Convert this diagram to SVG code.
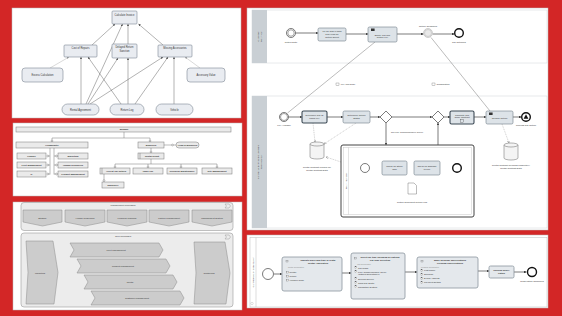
<svg xmlns="http://www.w3.org/2000/svg" width="562" height="316" viewBox="0 0 562 316">
<defs>
<marker id="a1" viewBox="0 0 6 6" refX="6" refY="3" markerUnits="userSpaceOnUse" markerWidth="2.2" markerHeight="2.2" orient="auto"><path d="M0,0L6,3L0,6Z" fill="#444"/></marker>
<marker id="a1l" viewBox="0 0 6 6" refX="6" refY="3" markerUnits="userSpaceOnUse" markerWidth="2.2" markerHeight="2.2" orient="auto"><path d="M0,0L6,3L0,6Z" fill="#999"/></marker>
<marker id="a2" viewBox="0 0 6 6" refX="6" refY="3" markerUnits="userSpaceOnUse" markerWidth="2.4" markerHeight="2.4" orient="auto"><path d="M0,0L6,3L0,6Z" fill="#222"/></marker>
<marker id="a3" viewBox="0 0 6 6" refX="6" refY="3" markerUnits="userSpaceOnUse" markerWidth="2.4" markerHeight="2.4" orient="auto"><path d="M0,0L6,3L0,6" fill="none" stroke="#777"/></marker>
<style>
text{font-family:"Liberation Sans",Arial,sans-serif;fill:#333;text-anchor:middle}
.f3{font-size:3px}.f2{font-size:2.3px}.f25{font-size:2.6px}.b{font-weight:bold}
.panel{fill:#fff;stroke:#bbb;stroke-width:.5}
.p1{fill:#e9ecf1;stroke:#7d8894;stroke-width:.6}
.c1{stroke:#555;stroke-width:.45;fill:none;marker-end:url(#a1)}
.c1l{stroke:#aaa;stroke-width:.45;fill:none;marker-end:url(#a1l)}
.org{fill:#eaeaea;stroke:#777;stroke-width:.5}
.ol{stroke:#777;stroke-width:.5;fill:none}
.dot{fill:#fff;stroke:#666;stroke-width:.4}
.chev{fill:#cccccc;stroke:#8a8a8a;stroke-width:.5}
.cont{fill:#ececec;stroke:#9a9a9a;stroke-width:.6}
.task{fill:#dde3e8;stroke:#6f7c87;stroke-width:.6}
.taskb{fill:#dde3e8;stroke:#3d4a55;stroke-width:1.1}
.flow{stroke:#222;stroke-width:.6;fill:none;marker-end:url(#a2)}
.msg{stroke:#555;stroke-width:.4;fill:none}
.assoc{stroke:#888;stroke-width:.4;stroke-dasharray:1 .8;fill:none}
.ev{fill:#fff;stroke:#222;stroke-width:.6}
.evend{fill:#fff;stroke:#111;stroke-width:1.4}
.hdr{fill:#c9cfd4;stroke:none}
.sp{fill:#e4e8ec;stroke:#8a959e;stroke-width:.8}
.chk{fill:#fff;stroke:#555;stroke-width:.3}
</style>
</defs>
<rect x="0" y="0" width="562" height="316" fill="#d32626"/>

<!-- Panel 1 -->
<g id="panel1">
<rect class="panel" x="12" y="8" width="229" height="110"/>
<g id="connectors1">
<line class="c1" x1="92" y1="45" x2="115" y2="24"/>
<line class="c1" x1="128" y1="44" x2="128" y2="24"/>
<line class="c1" x1="163" y1="45" x2="138.5" y2="24"/>
<line class="c1" x1="86" y1="104" x2="122.5" y2="24"/>
<line class="c1" x1="81" y1="104" x2="81" y2="57"/>
<line class="c1" x1="88" y1="104" x2="118" y2="58"/>
<line class="c1" x1="90" y1="104" x2="163" y2="57"/>
<line class="c1" x1="121" y1="104" x2="88" y2="57"/>
<line class="c1" x1="128" y1="104" x2="128" y2="58"/>
<line class="c1" x1="135" y1="104" x2="168" y2="57"/>
<line class="c1" x1="174" y1="104" x2="174" y2="57"/>
<line class="c1l" x1="50" y1="68" x2="69" y2="57"/>
<line class="c1l" x1="200" y1="68" x2="185" y2="57"/>
</g>
<g id="calcInvoice"><rect class="p1" x="112" y="11" width="25" height="13" rx="1"/><text class="f25" x="124.5" y="15.5">Calculate Invoice</text></g>
<g id="costRepairs"><rect class="p1" x="64" y="45" width="33" height="12" rx="1"/><text class="f25" x="80.5" y="49.3">Cost of Repairs</text></g>
<g id="delayed"><rect class="p1" x="112" y="44" width="25" height="14" rx="1"/><text class="f25" x="124.5" y="48.3">Delayed Return</text><text class="f25" x="124.5" y="51.5">Sanction</text></g>
<g id="missing"><rect class="p1" x="158" y="45" width="34" height="12" rx="1"/><text class="f25" x="175" y="49.3">Missing Accessories</text></g>
<g id="excess"><rect class="p1" x="22" y="68" width="41" height="14" rx="3"/><text class="f25" x="42.5" y="76">Excess Calculation</text></g>
<g id="accessory"><rect class="p1" x="187" y="68" width="38" height="14" rx="3"/><text class="f25" x="206" y="76">Accessory Value</text></g>
<g id="rentalAgr"><rect class="p1" x="62" y="104" width="37" height="11" rx="5.5"/><text class="f25" x="80.5" y="110.5">Rental Agreement</text></g>
<g id="returnLog"><rect class="p1" x="110" y="104" width="34" height="11" rx="5.5"/><text class="f25" x="127" y="110.5">Return Log</text></g>
<g id="vehicle"><rect class="p1" x="156" y="104" width="37" height="11" rx="5.5"/><text class="f25" x="174.5" y="110.5">Vehicle</text></g>
</g>

<!-- Panel 2 -->
<g id="panel2">
<rect class="panel" x="13" y="123" width="229" height="73"/>
<g id="connectors2">
<path class="ol" d="M124,132V138M52,138H150M52,138V142M150,138V142"/>
<path class="ol" d="M50,148V174.5M54,148V174.5M50,156H47M50,165H47M50,174H47M54,156H58M54,165H58M54,174H58"/>
<path class="ol" d="M164,145H176M151,148V153M151,159V164M115,164H217M115,164V168M148,164V168M181,164V168M217,164V168M104,174V182"/>
<circle class="dot" cx="52" cy="141" r=".9"/><circle class="dot" cx="150" cy="141" r=".9"/>
<circle class="dot" cx="47.8" cy="156" r=".9"/><circle class="dot" cx="47.8" cy="165" r=".9"/><circle class="dot" cx="47.8" cy="174" r=".9"/>
<circle class="dot" cx="56.5" cy="156" r=".9"/><circle class="dot" cx="56.5" cy="165" r=".9"/><circle class="dot" cx="56.5" cy="174" r=".9"/>
<circle class="dot" cx="172.5" cy="145" r=".9"/><circle class="dot" cx="151" cy="152" r=".9"/>
<circle class="dot" cx="115" cy="167" r=".9"/><circle class="dot" cx="148" cy="167" r=".9"/><circle class="dot" cx="181" cy="167" r=".9"/><circle class="dot" cx="217" cy="167" r=".9"/>
<circle class="dot" cx="104" cy="180.5" r=".9"/>
</g>
<g id="milbank"><rect class="org" x="16" y="127" width="215" height="5"/><text class="f2 b" x="124" y="130.4">Milbank</text></g>
<g id="hq"><rect class="org" x="16" y="142" width="72" height="6"/><text class="f2 b" x="52" y="145.8">Headquarter</text></g>
<g id="finance"><rect class="org" x="17" y="153" width="29" height="6"/><text class="f2 b" x="31.5" y="156.8">Finance</text></g>
<g id="fleet"><rect class="org" x="17" y="162" width="29" height="6"/><text class="f2 b" x="31.5" y="165.8">Fleet Management</text></g>
<g id="it"><rect class="org" x="17" y="171" width="29" height="6"/><text class="f2 b" x="31.5" y="174.8">IT</text></g>
<g id="marketing"><rect class="org" x="58" y="153" width="30" height="6"/><text class="f2 b" x="73" y="156.8">Marketing</text></g>
<g id="hr"><rect class="org" x="58" y="162" width="30" height="6"/><text class="f2 b" x="73" y="165.8">Human Resources</text></g>
<g id="pm"><rect class="org" x="58" y="171" width="30" height="6"/><text class="f2 b" x="73" y="174.8">Product Management</text></g>
<g id="branches"><rect class="org" x="138" y="142" width="26" height="6"/><text class="f2 b" x="151" y="145.8">Branches</text></g>
<g id="headBranches"><rect class="org" x="176" y="142" width="23" height="6" rx="3"/><text class="f2 b" x="187.5" y="145.8">Head of Branches</text></g>
<g id="depot"><rect class="org" x="138" y="153" width="26" height="6"/><line class="ol" x1="140" y1="153" x2="140" y2="159"/><text class="f2 b" x="152" y="156.8">Rental Depot</text></g>
<g id="accept"><rect class="org" x="100" y="168" width="30" height="6"/><line class="ol" x1="102" y1="168" x2="102" y2="174"/><text class="f2 b" x="116" y="171.8">Accept Car Return</text></g>
<g id="issue"><rect class="org" x="133" y="168" width="30" height="6"/><text class="f2 b" x="148" y="171.8">Issue Car</text></g>
<g id="tech"><rect class="org" x="167" y="168" width="30" height="6"/><text class="f2 b" x="182" y="171.8">Technical Maintenance</text></g>
<g id="site"><rect class="org" x="202" y="168" width="30" height="6"/><text class="f2 b" x="217" y="171.8">Site Management</text></g>
<g id="employee"><rect class="org" x="102" y="182" width="22" height="6"/><text class="f2 b" x="113" y="185.8">Employee</text></g>
</g>

<!-- Panel 3 -->
<g id="panel3">
<rect class="panel" x="13" y="202" width="229" height="108"/>
<rect class="cont" x="21" y="202.5" width="212" height="28" rx="3"/>
<text class="f2" x="123" y="206">Management Processes</text>
<path d="M225,204H229L230.5,206L229,208H225L226.5,206Z" fill="none" stroke="#888" stroke-width=".4"/>
<g id="strategy"><path class="chev" d="M23,210H62V222L42.5,226L23,222Z"/><text class="f2" x="42.5" y="219">Strategy</text></g>
<g id="mhr"><path class="chev" d="M65,210H105V222L85,226L65,222Z"/><text class="f2" x="85" y="219">Human Resources</text></g>
<g id="finplan"><path class="chev" d="M107,210H147V222L127,226L107,222Z"/><text class="f2" x="127" y="219">Financial Planning</text></g>
<g id="partner"><path class="chev" d="M149,210H189V222L169,226L149,222Z"/><text class="f2" x="169" y="219">Partner Management</text></g>
<g id="mgmtsys"><path class="chev" d="M192,210H232V222L212,226L192,222Z"/><text class="f2" x="212" y="219">Management System</text></g>
<rect class="cont" x="21" y="233" width="212" height="74" rx="3"/>
<text class="f2" x="123" y="236.5">Core processes</text>
<path d="M225,235H229L230.5,237L229,239H225L226.5,237Z" fill="none" stroke="#888" stroke-width=".4"/>
<g id="cmarketing"><path class="chev" d="M26,241H53L58,272.5L54,304H26L28,272.5Z"/><text class="f2" x="40" y="273.5">Marketing</text></g>
<g id="controlling"><path class="chev" d="M194,242H225L230,273L226,304H194L196,273Z"/><text class="f2" x="209" y="274">Controlling</text></g>
<g id="cfleet"><path class="chev" d="M70,243H159L163,250L159,257H70L74,250Z"/><text class="f2" x="116" y="251">Fleet Management</text></g>
<g id="cproduct"><path class="chev" d="M77,259H166L170,266L166,273H77L81,266Z"/><text class="f2" x="123" y="267">Product Management</text></g>
<g id="crental"><path class="chev" d="M84,275H173L177,282L173,289H84L88,282Z"/><text class="f2" x="130" y="283">Rental</text></g>
<g id="ccustomer"><path class="chev" d="M91,291H180L184,298L180,305H91L95,298Z"/><text class="f2" x="137" y="299">Customer Management</text></g>
</g>

<!-- Panel 4 BPMN -->
<g id="panel4">
<rect class="panel" x="247" y="8" width="301" height="222"/>
<rect x="252" y="10" width="295" height="53" fill="none" stroke="#d0d4d8" stroke-width=".5"/>
<rect class="hdr" x="252" y="10" width="15" height="53"/>
<text class="f2" transform="translate(259,36.5) rotate(-90)">Customer</text>
<text class="f2" transform="translate(262,36.5) rotate(-90)">Return Car</text>
<rect x="252" y="96" width="295" height="132" fill="none" stroke="#d0d4d8" stroke-width=".5"/>
<rect class="hdr" x="252" y="96" width="15" height="132"/>
<text class="f2" transform="translate(259,162) rotate(-90)">Car Rental for Private Customers</text>
<text class="f2" transform="translate(262,162) rotate(-90)">Take back Car</text>

<g id="connectors4">
<line class="flow" x1="295.5" y1="33" x2="318" y2="33"/>
<line class="flow" x1="346" y1="34" x2="368" y2="34"/>
<line class="flow" x1="397" y1="34" x2="423.5" y2="34"/>
<line class="flow" x1="432.5" y1="34" x2="454.5" y2="34"/>
<line class="msg" x1="375" y1="42" x2="287.5" y2="113"/>
<line class="msg" x1="490" y1="111" x2="431" y2="37.5"/>
<line class="flow" x1="288.5" y1="117" x2="302" y2="117"/>
<line class="flow" x1="327" y1="117" x2="343" y2="117"/>
<line class="flow" x1="370" y1="117" x2="380" y2="117"/>
<line class="flow" x1="392" y1="117" x2="432" y2="117"/>
<line class="flow" x1="386" y1="123" x2="386" y2="145"/>
<line class="flow" x1="438" y1="145" x2="438" y2="123"/>
<line class="flow" x1="444" y1="117" x2="450" y2="117"/>
<line class="flow" x1="474" y1="117" x2="486" y2="117"/>
<line class="flow" x1="513" y1="117" x2="521.5" y2="117"/>
<line class="assoc" x1="313" y1="123" x2="315" y2="142" marker-end="url(#a3)"/>
<line class="assoc" x1="356" y1="123" x2="324" y2="144" marker-end="url(#a3)"/>
<line class="assoc" x1="341" y1="162" x2="326" y2="157" marker-end="url(#a3)"/>
<line class="assoc" x1="502" y1="124" x2="509" y2="143" marker-end="url(#a3)"/>
<line class="flow" x1="369.5" y1="168" x2="382" y2="168"/>
<line class="flow" x1="407" y1="168" x2="414" y2="168"/>
<line class="flow" x1="440" y1="168" x2="452.5" y2="168"/>
<line class="assoc" x1="400" y1="175" x2="409" y2="183" marker-end="url(#a3)"/>
<line class="assoc" x1="421" y1="175" x2="415" y2="183" marker-end="url(#a3)"/>
</g>

<g id="startReturnDate"><circle class="ev" cx="291" cy="33" r="4.5"/><circle cx="291" cy="33" r="3.2" fill="none" stroke="#222" stroke-width=".4"/><text class="f2" x="291" y="42.5">Return Date</text></g>
<g id="fillGas"><rect class="task" x="318" y="28" width="28" height="13" rx="1.5"/><text class="f2" x="332" y="32.3">Fill Up Gas in Tank</text><text class="f2" x="332" y="35">and Head for</text><text class="f2" x="332" y="37.7">Return Depot</text></g>
<g id="emptyCar"><rect class="task" x="368" y="27" width="29" height="15" rx="1.5"/><rect x="371" y="28.5" width="3.6" height="2.5" fill="#333"/><text class="f2" x="382.5" y="35.5">Empty Car and</text><text class="f2" x="382.5" y="38.3">Return Key</text></g>
<g id="returnConfirmed"><circle cx="428" cy="33" r="4.5" fill="#e9e9e9" stroke="#aaa" stroke-width=".5"/><circle cx="428" cy="33" r="3.5" fill="none" stroke="#aaa" stroke-width=".4"/><text class="f2" x="428" y="27">Return Confirmed</text></g>
<g id="carReturned"><circle class="evend" cx="459" cy="33" r="4.3"/><text class="f2" x="459" y="42.5">Car Returned</text></g>
<g id="msgKey"><rect x="336" y="83" width="3" height="2.2" fill="none" stroke="#555" stroke-width=".3"/><text class="f2" x="348" y="85">Key (Physical)</text></g>
<g id="msgConf"><rect x="432" y="83" width="3" height="2.2" fill="none" stroke="#555" stroke-width=".3"/><text class="f2" x="443" y="85">Confirmation</text></g>

<g id="keyAvailable"><circle class="ev" cx="284" cy="117" r="4.5"/><circle cx="284" cy="117" r="3.5" fill="none" stroke="#222" stroke-width=".4"/><text class="f2" x="284" y="126">Key Available</text></g>
<g id="detCarId"><rect class="taskb" x="302" y="111" width="25" height="12" rx="1.5"/><text class="f2" x="314.5" y="116">Determine Car ID</text><text class="f2" x="314.5" y="118.7">Using Key</text></g>
<g id="detStatus"><rect class="task" x="343" y="111" width="27" height="12" rx="1.5"/><text class="f2" x="356.5" y="116">Determine Return</text><text class="f2" x="356.5" y="118.7">Status</text></g>
<g id="gw1"><path d="M386,111L392,117L386,123L380,117Z" fill="#fff" stroke="#222" stroke-width=".6"/></g>
<text class="f2" x="407" y="133">No Fully Comprehensive Cover</text>
<g id="gw2"><path d="M438,111L444,117L438,123L432,117Z" fill="#fff" stroke="#222" stroke-width=".6"/></g>
<g id="calcClose"><rect class="taskb" x="450" y="111" width="24" height="13" rx="1.5"/><text class="f2" x="462" y="115.5">Calculate and</text><text class="f2" x="462" y="118.2">Close Contract</text><rect x="460.8" y="119.8" width="2.4" height="2.4" fill="none" stroke="#333" stroke-width=".3"/></g>
<g id="confirmReturn"><rect class="task" x="486" y="111" width="27" height="13" rx="1.5"/><rect x="489" y="112.5" width="3.6" height="2.5" fill="#333"/><text class="f2" x="499.5" y="119">Confirm Return</text></g>
<g id="processEnd"><circle class="evend" cx="526" cy="117" r="4.3"/><path d="M526,114.2L528.4,118.8H523.6Z" fill="#111"/><text class="f2" x="526" y="126">Process Car Return</text></g>
<g id="store1"><path d="M310,144V157A7,2 0 0 0 324,157V144" fill="#f4f4f4" stroke="#666" stroke-width=".5"/><ellipse cx="317" cy="144" rx="7" ry="2" fill="#f4f4f4" stroke="#666" stroke-width=".5"/><text class="f2" x="317" y="167.5">Rental Contract [Picked up]</text><text class="f2" x="317" y="170.5">Rental Contract Data</text></g>
<g id="store2"><path d="M504,145V158A7,2 0 0 0 518,158V145" fill="#f4f4f4" stroke="#666" stroke-width=".5"/><ellipse cx="511" cy="145" rx="7" ry="2" fill="#f4f4f4" stroke="#666" stroke-width=".5"/><text class="f2" x="511" y="166">Rental Contract [Process completely]</text><text class="f2" x="511" y="169">Rental Contract Data</text></g>
<g id="subprocess">
<rect x="341" y="145" width="133" height="72" rx="2" fill="#fff" stroke="#444" stroke-width="1"/>
<rect x="343.5" y="147.5" width="128" height="67" fill="none" stroke="#bbb" stroke-width=".4"/>
<line x1="348.5" y1="147.5" x2="348.5" y2="214.5" stroke="#bbb" stroke-width=".4"/>
<text class="f2" transform="translate(346.8,181) rotate(-90)">Return Manager</text>
<circle class="ev" cx="365" cy="168" r="4.5"/>
<rect class="task" x="382" y="161" width="25" height="14" rx="1.5"/><text class="f2" x="394.5" y="167">Check for Stone</text><text class="f2" x="394.5" y="169.7">Chip</text>
<rect class="task" x="414" y="161" width="26" height="14" rx="1.5"/><text class="f2" x="427" y="167">Check for Damage</text><text class="f2" x="427" y="169.7">to Tire</text>
<circle class="evend" cx="457" cy="168" r="4.3"/>
<path d="M408,183H414L416.5,185.5V194H408Z" fill="#fff" stroke="#555" stroke-width=".4"/>
<text class="f2" x="412" y="202.5">Return Document Return Log</text>
</g>
</g>

<!-- Panel 5 -->
<g id="panel5">
<rect class="panel" x="247" y="235" width="301" height="73"/>
<rect x="250" y="237.5" width="297" height="69.5" fill="none" stroke="#bbb" stroke-width=".5"/>
<line x1="256" y1="237.5" x2="256" y2="307" stroke="#bbb" stroke-width=".5"/>
<text class="f2" transform="translate(253.8,272) rotate(-90)">Car Reservation Specification</text>
<circle cx="252" cy="303.5" r="1.2" fill="none" stroke="#999" stroke-width=".3"/>
<g id="connectors5">
<line class="flow" x1="274" y1="274" x2="282" y2="274"/>
<line class="flow" x1="342" y1="273" x2="351" y2="273"/>
<line class="flow" x1="405" y1="272" x2="417" y2="272"/>
<line class="flow" x1="478" y1="271" x2="489" y2="271"/>
<line class="flow" x1="514" y1="272" x2="526.5" y2="272"/>
</g>
<g id="start5"><circle class="ev" cx="268" cy="274" r="5.5"/></g>
<g id="sp1"><rect class="sp" x="282" y="257" width="60" height="34" rx="2"/>
<text class="f2 b" x="318" y="261.3">Indicate place and time of rental</text><text class="f2 b" x="318" y="264">Rental Application</text>
<rect x="286" y="260.5" width="2" height="1.5" fill="none" stroke="#666" stroke-width=".3"/>
<text class="f2" x="296" y="268" fill="#999" style="font-size:1.8px;fill:#888">Rental Specification</text>
<rect class="chk" x="286.5" y="271.2" width="1.8" height="1.8"/><text class="f2" x="294" y="273" style="text-anchor:start" dx="-4.5">Rental</text>
<rect class="chk" x="286.5" y="275.2" width="1.8" height="1.8"/><text class="f2" x="289.5" y="277" style="text-anchor:start">Return</text>
<rect class="chk" x="286.5" y="279.2" width="1.8" height="1.8"/><text class="f2" x="289.5" y="281" style="text-anchor:start">Voucher Code</text>
</g>
<g id="sp2"><rect class="sp" x="351" y="253" width="54" height="46" rx="2"/>
<text class="f2 b" x="380" y="258">Select car type including all options</text><text class="f2 b" x="380" y="260.7">Car Type Selection</text>
<rect x="354.5" y="257.5" width="2" height="1.5" fill="none" stroke="#666" stroke-width=".3"/>
<text x="364" y="264.5" style="font-size:1.8px;fill:#888">Car Specification</text>
<rect class="chk" x="355" y="266.8" width="1.8" height="1.8"/><text class="f2" x="358" y="268.6" style="text-anchor:start">Car Class</text>
<rect class="chk" x="355" y="270.8" width="1.8" height="1.8"/><text class="f2" x="358" y="272.6" style="text-anchor:start">Fully Comprehensive Cover</text><text class="f2" x="358" y="275.2" style="text-anchor:start">(without Deductible)?</text>
<rect class="chk" x="355" y="277.8" width="1.8" height="1.8"/><text class="f2" x="358" y="279.6" style="text-anchor:start">Second Driver?</text>
<rect class="chk" x="355" y="281.8" width="1.8" height="1.8"/><text class="f2" x="358" y="283.6" style="text-anchor:start">Child Car Seat?</text>
<rect class="chk" x="355" y="285.8" width="1.8" height="1.8"/><text class="f2" x="358" y="287.6" style="text-anchor:start">Navigation System</text>
</g>
<g id="sp3"><rect class="sp" x="417" y="257" width="61" height="31" rx="2"/>
<text class="f2 b" x="450" y="261.3">Make personal specifications</text><text class="f2 b" x="450" y="264">Personal Specifications</text>
<rect x="421" y="260.5" width="2" height="1.5" fill="none" stroke="#666" stroke-width=".3"/>
<text x="430" y="268" style="font-size:1.8px;fill:#888">Personal Specification</text>
<rect class="chk" x="421" y="269.5" width="1.8" height="1.8"/><text class="f2" x="424" y="271.3" style="text-anchor:start">First Name</text>
<rect class="chk" x="421" y="273.5" width="1.8" height="1.8"/><text class="f2" x="424" y="275.3" style="text-anchor:start">Surname</text>
<rect class="chk" x="421" y="277.5" width="1.8" height="1.8"/><text class="f2" x="424" y="279.3" style="text-anchor:start">E-mail Address</text>
<rect class="chk" x="421" y="281.5" width="1.8" height="1.8"/><text class="f2" x="424" y="283.3" style="text-anchor:start">Payment Details</text>
</g>
<g id="confirmRes"><rect class="sp" x="489" y="266" width="25" height="12" rx="1.5"/><text class="f2 b" x="501.5" y="271">Confirm Reser-</text><text class="f2 b" x="501.5" y="273.7">vation</text></g>
<g id="end5"><circle class="evend" cx="532" cy="272" r="4.5"/><text class="f2" x="532" y="281.5">Reservation Confirmed</text></g>
</g>
</svg>
